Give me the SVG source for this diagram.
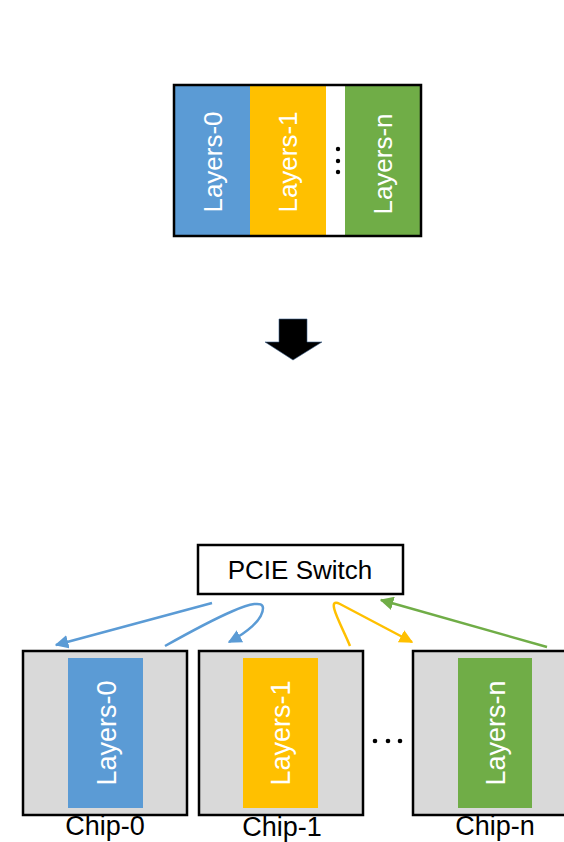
<svg xmlns="http://www.w3.org/2000/svg" width="564" height="842" viewBox="0 0 564 842">
<defs>
<style>
.lbl{font-family:"Liberation Sans",Arial,sans-serif;font-size:26px;fill:#fff;text-anchor:middle}
.blk{font-family:"Liberation Sans",Arial,sans-serif;font-size:26px;fill:#000;text-anchor:middle}
.chip{fill:#D9D9D9;stroke:#000;stroke-width:2.5}
.con{fill:none;stroke-width:2.5}
</style>
<marker id="mb" viewBox="0 0 10 10" refX="9" refY="5" markerWidth="5.5" markerHeight="5.5" orient="auto" markerUnits="strokeWidth"><path d="M0,0 L10,5 L0,10 z" fill="#5B9BD5"/></marker>
<marker id="my" viewBox="0 0 10 10" refX="9" refY="5" markerWidth="5.5" markerHeight="5.5" orient="auto" markerUnits="strokeWidth"><path d="M0,0 L10,5 L0,10 z" fill="#FFC000"/></marker>
<marker id="mg" viewBox="0 0 10 10" refX="9" refY="5" markerWidth="5.5" markerHeight="5.5" orient="auto" markerUnits="strokeWidth"><path d="M0,0 L10,5 L0,10 z" fill="#70AD47"/></marker>
</defs>
<rect width="564" height="842" fill="#fff"/>

<g id="model">
<rect x="174" y="85" width="76" height="151" fill="#5B9BD5"/>
<rect x="250" y="85" width="76" height="151" fill="#FFC000"/>
<rect x="326" y="85" width="19" height="151" fill="#fff"/>
<rect x="345" y="85" width="76" height="151" fill="#70AD47"/>
<rect x="174" y="85" width="247" height="151" fill="none" stroke="#000" stroke-width="2.5"/>
<text class="lbl" transform="translate(222,162) rotate(-90)">Layers-0</text>
<text class="lbl" transform="translate(297,162) rotate(-90)">Layers-1</text>
<text class="lbl" transform="translate(392,164) rotate(-90)">Layers-n</text>
<circle cx="338" cy="149" r="2.2" fill="#000"/>
<circle cx="338" cy="161" r="2.2" fill="#000"/>
<circle cx="338" cy="172" r="2.2" fill="#000"/>
</g>

<g id="down-arrow">
<path d="M279,319 H307 V342 H322 L293,360 L265,342 H279 Z" fill="#000" stroke="#3a5f8a" stroke-width="0.6"/>
</g>

<g id="pcie">
<rect x="198" y="545" width="205" height="49" fill="#fff" stroke="#000" stroke-width="2.5"/>
<text class="blk" x="300" y="579">PCIE Switch</text>
</g>

<g id="chip0">
<rect class="chip" x="23" y="651" width="164" height="164"/>
<rect x="68" y="658" width="75" height="150" fill="#5B9BD5"/>
<text class="lbl" transform="translate(116,733) rotate(-90)" style="font-size:27px">Layers-0</text>
<text class="blk" x="105" y="835" style="font-size:27px">Chip-0</text>
</g>

<g id="chip1">
<rect class="chip" x="199" y="651" width="164" height="164"/>
<rect x="243" y="658" width="75" height="150" fill="#FFC000"/>
<text class="lbl" transform="translate(290,733) rotate(-90)" style="font-size:27px">Layers-1</text>
<text class="blk" x="282" y="836" style="font-size:27px">Chip-1</text>
</g>

<g id="chipn">
<rect class="chip" x="413" y="651" width="164" height="164"/>
<rect x="458" y="658" width="74" height="150" fill="#70AD47"/>
<text class="lbl" transform="translate(505,733) rotate(-90)" style="font-size:27px">Layers-n</text>
<text class="blk" x="495" y="835" style="font-size:27px">Chip-n</text>
</g>

<g id="ellipsis">
<circle cx="375" cy="741" r="2.3" fill="#000"/>
<circle cx="388" cy="741" r="2.3" fill="#000"/>
<circle cx="400" cy="741" r="2.3" fill="#000"/>
</g>

<g id="connectors">
<path class="con" stroke="#5B9BD5" marker-end="url(#mb)" d="M212,603 L56,645"/>
<path class="con" stroke="#5B9BD5" marker-end="url(#mb)" d="M165,646 C215,618 262,594 263,608 C263,620 246,633 229,642"/>
<path class="con" stroke="#FFC000" marker-end="url(#my)" d="M350,646 C343,628 324,596 340,604 L412,642"/>
<path class="con" stroke="#70AD47" marker-end="url(#mg)" d="M547,647 L381,600"/>
</g>
</svg>
